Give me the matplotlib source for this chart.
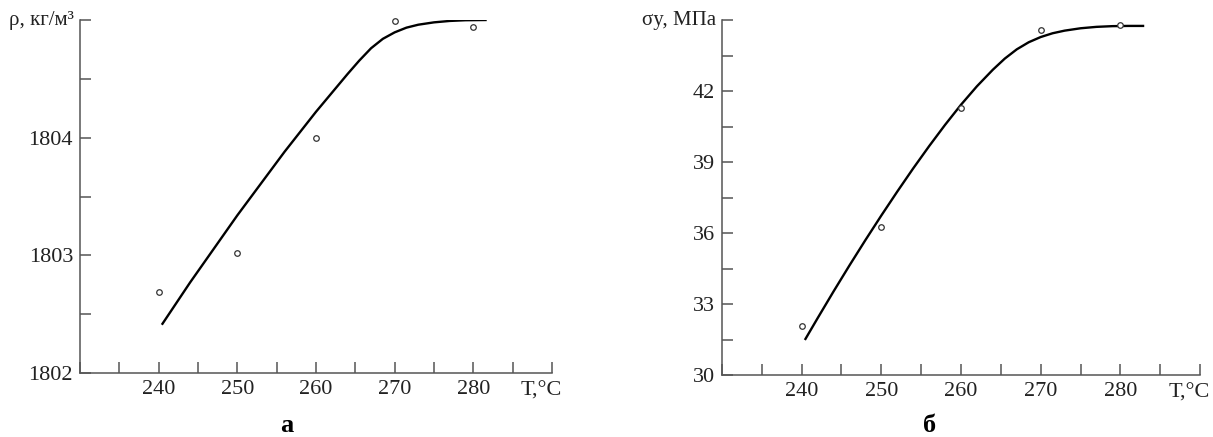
import matplotlib
matplotlib.use("Agg")
import matplotlib.pyplot as plt
import matplotlib.transforms as mtransforms

plt.rcParams['font.family'] = ['Liberation Serif', 'DejaVu Serif']

# --- panel а: density vs temperature ---
t_points = [240, 250, 260, 270, 280]
rho_points = [1802.69, 1803.02, 1804.0, 1804.99, 1804.94]
t_curve_a = [240.4, 242, 244, 246, 248, 250, 252, 254, 256, 258, 260, 262, 264,
             265.5, 267, 268.5, 270, 271.5, 273, 275, 277, 279, 281.7]
rho_curve = [1802.41, 1802.57, 1802.77, 1802.96, 1803.15, 1803.34, 1803.52, 1803.70,
             1803.88, 1804.05, 1804.22, 1804.38, 1804.54, 1804.655, 1804.76, 1804.84,
             1804.895, 1804.935, 1804.96, 1804.98, 1804.992, 1804.998, 1805.0]

# --- panel б: yield stress vs temperature ---
sigma_points = [32.07, 36.27, 41.28, 44.58, 44.77]
t_curve_b = [240.4, 242, 244, 246, 248, 250, 252, 254, 256, 258, 260, 262, 264,
             265.5, 267, 268.5, 270, 271.5, 273, 275, 277, 279, 281, 283]
sigma_curve = [31.48, 32.40, 33.53, 34.63, 35.70, 36.74, 37.75, 38.73, 39.67, 40.57,
               41.42, 42.20, 42.90, 43.37, 43.76, 44.06, 44.28, 44.44, 44.55, 44.65,
               44.71, 44.74, 44.75, 44.75]

x_ticks = list(range(230, 291, 5))
x_labels = ['', '', '240', '', '250', '', '260', '', '270', '', '280', '', '']

y_ticks_a = [1802, 1802.5, 1803, 1803.5, 1804, 1804.5, 1805]
y_labels_a = ['1802', '', '1803', '', '1804', '', '']
y_ticks_b = [30, 31.5, 33, 34.5, 36, 37.5, 39, 40.5, 42, 43.5, 45]
y_labels_b = ['30', '', '33', '', '36', '', '39', '', '42', '', '']

fig = plt.figure(figsize=(12.13, 4.37), dpi=100)
ax_a = fig.add_axes([80 / 1213, 1 - 373 / 437, 472 / 1213, 353 / 437])
ax_b = fig.add_axes([722 / 1213, 1 - 375 / 437, 478 / 1213, 355 / 437])

axis_color = '#555555'
text_color = '#222222'


def style_axes(ax, yticks, ylabels, ylim, ylabel):
    ax.set_xlim(230, 290)
    ax.set_ylim(*ylim)
    ax.set_xticks(x_ticks)
    ax.set_xticklabels(x_labels)
    ax.set_yticks(yticks)
    ax.set_yticklabels(ylabels)
    for side in ['top', 'right']:
        ax.spines[side].set_visible(False)
    for side in ['left', 'bottom']:
        ax.spines[side].set_color(axis_color)
        ax.spines[side].set_linewidth(1.1)
    ax.tick_params(direction='in', length=8, width=1.1, color=axis_color,
                   labelsize=16, labelcolor=text_color, pad=5)
    # y-axis caption sits where the top tick label would be
    ax.text(-0.012, 1.0, ylabel, transform=ax.transAxes, ha='right', va='center',
            fontsize=15, color=text_color)
    # x-axis caption sits on the tick label row, right end
    trans = mtransforms.blended_transform_factory(ax.transData, ax.transAxes)
    ax.text(288.6, -0.025, 'T,°C', transform=trans, ha='center', va='top',
            fontsize=16, color=text_color)


ax_a.plot(t_curve_a, rho_curve, color='black', linewidth=1.7, solid_capstyle='butt',
          solid_joinstyle='round')
ax_a.plot(t_points, rho_points, 'o', markersize=4, markerfacecolor='white',
          markeredgecolor='#333333', markeredgewidth=0.9, clip_on=False)
style_axes(ax_a, y_ticks_a, y_labels_a, (1802, 1805), 'ρ, кг/м³')

ax_b.plot(t_curve_b, sigma_curve, color='black', linewidth=1.7, solid_capstyle='butt',
          solid_joinstyle='round')
ax_b.plot(t_points, sigma_points, 'o', markersize=4, markerfacecolor='white',
          markeredgecolor='#333333', markeredgewidth=0.9, clip_on=False)
style_axes(ax_b, y_ticks_b, y_labels_b, (30, 45), 'σy, МПа')

fig.text(287 / 1213, 1 - 425 / 437, 'а', ha='center', va='center',
         fontsize=19, fontweight='bold')
fig.text(930 / 1213, 1 - 425 / 437, 'б', ha='center', va='center',
         fontsize=19, fontweight='bold')

fig.savefig('out.png', dpi=100, facecolor='white')
